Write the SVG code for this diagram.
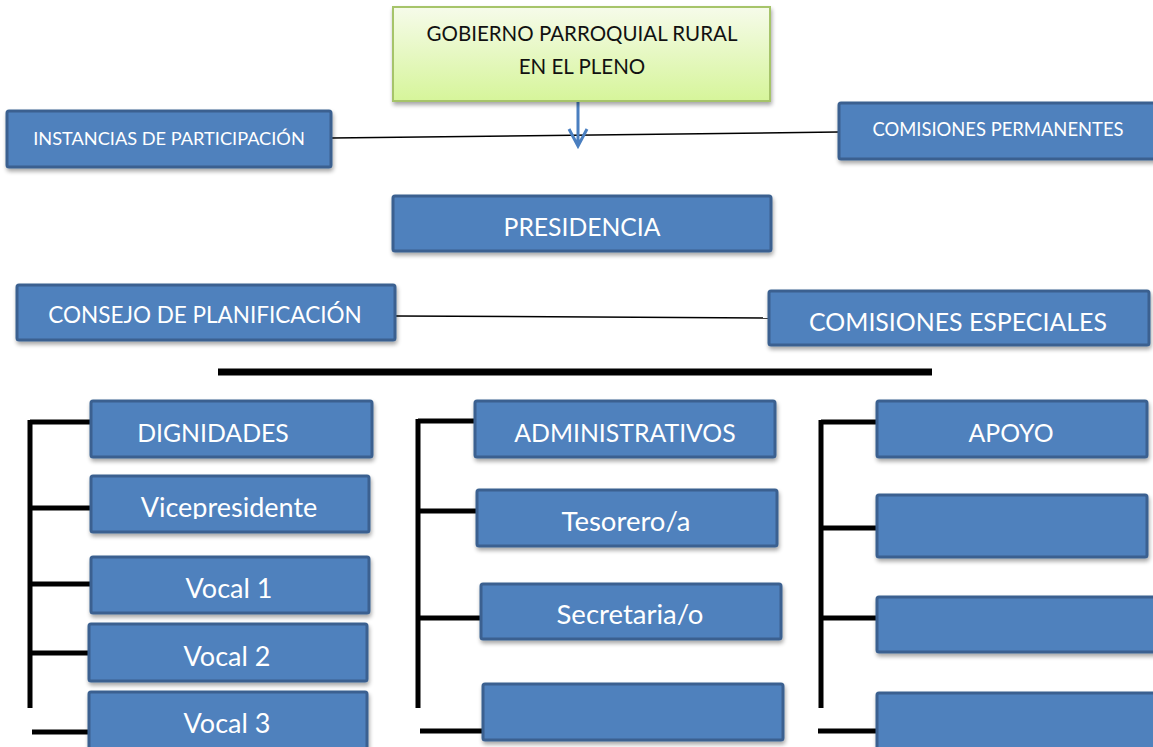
<svg xmlns="http://www.w3.org/2000/svg" width="1153" height="747" viewBox="0 0 1153 747">
<defs>
<linearGradient id="g" x1="0" y1="0" x2="0" y2="1">
<stop offset="0" stop-color="#f6fbea"/>
<stop offset="1" stop-color="#d6f59a"/>
</linearGradient>
<filter id="sh" x="-5%" y="-10%" width="112%" height="130%">
<feGaussianBlur in="SourceAlpha" stdDeviation="2"/>
<feOffset dx="1" dy="3" result="b"/>
<feComponentTransfer><feFuncA type="linear" slope="0.35"/></feComponentTransfer>
<feMerge><feMergeNode/><feMergeNode in="SourceGraphic"/></feMerge>
</filter>
<clipPath id="vp"><rect x="90" y="475" width="280" height="44"/></clipPath>
</defs>
<style>
.b{fill:#4f81bd;stroke:#3a6190;stroke-width:3;filter:url(#sh)}
.t{fill:#fff;font-family:Lato,"Open Sans",sans-serif;text-anchor:middle}
.u{font-size:24.8px}
.l{font-size:27.5px}
.k{stroke:#000;stroke-width:5;fill:none}
.thin{stroke:#000;stroke-width:1.5;fill:none}
</style>
<g id="connectors">
<line class="thin" x1="332" y1="138" x2="838" y2="132"/>
<line class="thin" x1="396" y1="316" x2="768" y2="318"/>
<line x1="218" y1="372" x2="932" y2="372" stroke="#000" stroke-width="7"/>
<path d="M578 96 V146 M569 129 L578 146 L587 129" stroke="#4a7fc0" stroke-width="3" fill="none"/>
<path class="k" d="M30 422 H92 M30 420 V708 M30 508 H93 M30 584 H93 M30 653 H93 M32 732 H93"/>
<path class="k" d="M418 421 H475 M418 419 V708 M418 511 H484 M418 618 H481 M420 731 H482"/>
<path class="k" d="M821 422 H880 M821 420 V708 M821 528 H880 M821 618 H880 M818 731 H880"/>
</g>
<g id="gobierno">
<rect x="393" y="7" width="377" height="94" fill="url(#g)" stroke="#a6c46a" stroke-width="2" filter="url(#sh)"/>
<text x="582" y="41" font-family="Lato,'Open Sans',sans-serif" font-size="20.5" text-anchor="middle" fill="#111">GOBIERNO PARROQUIAL RURAL</text>
<text x="582" y="74" font-family="Lato,'Open Sans',sans-serif" font-size="20.5" text-anchor="middle" fill="#111">EN EL PLENO</text>
</g>
<g id="instancias"><rect class="b" x="7" y="111" width="324" height="56" rx="2"/><text class="t" x="169" y="145" font-size="18.2">INSTANCIAS DE PARTICIPACIÓN</text></g>
<g id="permanentes"><rect class="b" x="839" y="103" width="320" height="56" rx="2"/><text class="t" x="998" y="136" font-size="18.4">COMISIONES PERMANENTES</text></g>
<g id="presidencia"><rect class="b" x="393" y="196" width="378" height="55" rx="2"/><text class="t" x="582" y="236" font-size="24.7">PRESIDENCIA</text></g>
<g id="consejo"><rect class="b" x="17" y="285" width="378" height="55" rx="2"/><text class="t" x="205" y="323" font-size="22.5">CONSEJO DE PLANIFICACIÓN</text></g>
<g id="especiales"><rect class="b" x="769" y="291" width="380" height="54" rx="2"/><text class="t" x="958" y="331" font-size="24.9">COMISIONES ESPECIALES</text></g>
<g id="dignidades"><rect class="b" x="91" y="401" width="281" height="56" rx="2"/><text class="t u" x="213" y="442">DIGNIDADES</text></g>
<g id="vicepresidente"><rect class="b" x="91" y="476" width="278" height="56" rx="2"/><text class="t" x="229" y="517" font-size="27" clip-path="url(#vp)">Vicepresidente</text></g>
<g id="vocal1"><rect class="b" x="91" y="557" width="278" height="56" rx="2"/><text class="t" x="229" y="598" font-size="27">Vocal 1</text></g>
<g id="vocal2"><rect class="b" x="89" y="624" width="278" height="57" rx="2"/><text class="t" x="227" y="666" font-size="27">Vocal 2</text></g>
<g id="vocal3"><rect class="b" x="89" y="692" width="278" height="60" rx="2"/><text class="t" x="227" y="733" font-size="27">Vocal 3</text></g>
<g id="administrativos"><rect class="b" x="475" y="401" width="300" height="56" rx="2"/><text class="t u" x="625" y="442">ADMINISTRATIVOS</text></g>
<g id="tesorero"><rect class="b" x="477" y="490" width="300" height="56" rx="2"/><text class="t l" x="626" y="531">Tesorero/a</text></g>
<g id="secretaria"><rect class="b" x="481" y="584" width="300" height="55" rx="2"/><text class="t l" x="630" y="624">Secretaria/o</text></g>
<g id="admin-vacio"><rect class="b" x="483" y="684" width="300" height="56" rx="2"/></g>
<g id="apoyo"><rect class="b" x="877" y="401" width="270" height="56" rx="2"/><text class="t u" x="1011" y="442">APOYO</text></g>
<g id="apoyo-vacio1"><rect class="b" x="877" y="495" width="270" height="62" rx="2"/></g>
<g id="apoyo-vacio2"><rect class="b" x="877" y="597" width="280" height="55" rx="2"/></g>
<g id="apoyo-vacio3"><rect class="b" x="877" y="693" width="280" height="60" rx="2"/></g>
</svg>
